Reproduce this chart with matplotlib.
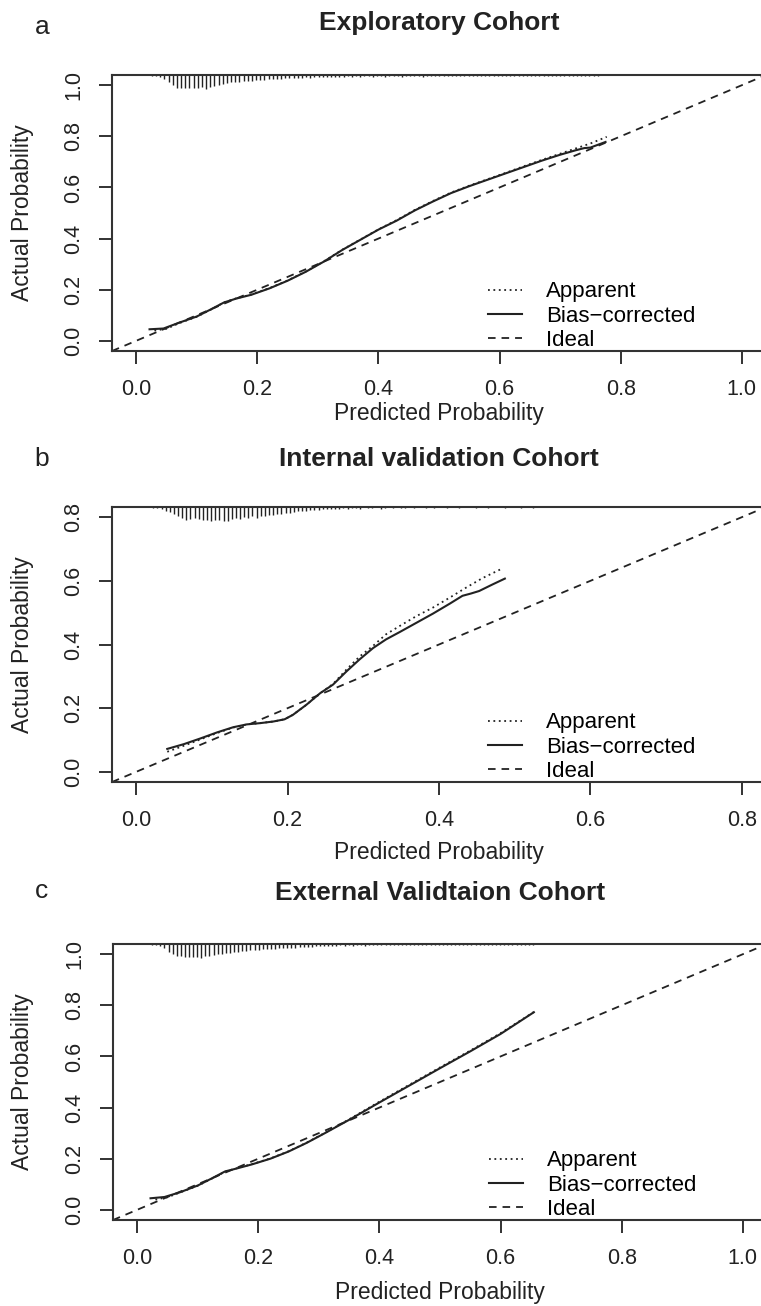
import matplotlib
matplotlib.use('Agg')
import matplotlib.pyplot as plt
import numpy as np

plt.rcParams['font.family'] = ['Liberation Sans', 'DejaVu Sans']

TITLES  = ['Exploratory Cohort', 'Internal validation Cohort', 'External Validtaion Cohort']
LETTERS = ['a', 'b', 'c']
LEGEND_LABELS = ['Apparent', 'Bias\u2212corrected', 'Ideal']
XLABEL = 'Predicted Probability'
YLABEL = 'Actual Probability'

# calibration curves
A_BIAS_X = [0.022, 0.045, 0.07, 0.1, 0.125, 0.145, 0.165, 0.19, 0.22, 0.25, 0.28, 0.31, 0.34,
            0.37, 0.40, 0.43, 0.46, 0.49, 0.52, 0.55, 0.58, 0.61, 0.64, 0.67, 0.70, 0.725,
            0.74, 0.75, 0.775]
A_BIAS_Y = [0.045, 0.048, 0.07, 0.095, 0.125, 0.15, 0.165, 0.18, 0.205, 0.235, 0.27, 0.31, 0.355,
            0.395, 0.435, 0.47, 0.51, 0.545, 0.578, 0.605, 0.63, 0.655, 0.68, 0.705, 0.728, 0.745,
            0.754, 0.756, 0.778]
A_APP_X = [0.03, 0.05, 0.07, 0.1, 0.125, 0.145, 0.165, 0.19, 0.22, 0.25, 0.28, 0.31, 0.34,
           0.37, 0.40, 0.43, 0.46, 0.49, 0.52, 0.55, 0.58, 0.61, 0.64, 0.67, 0.70, 0.725,
           0.75, 0.777]
A_APP_Y = [0.04, 0.047, 0.068, 0.094, 0.124, 0.15, 0.166, 0.181, 0.206, 0.236, 0.271, 0.311, 0.356,
           0.396, 0.436, 0.472, 0.512, 0.547, 0.58, 0.607, 0.632, 0.657, 0.683, 0.708, 0.732, 0.752,
           0.772, 0.798]

B_BIAS_X = [0.041, 0.063, 0.085, 0.107, 0.128, 0.146, 0.164, 0.181, 0.196, 0.207, 0.225, 0.243,
            0.26, 0.278, 0.295, 0.313, 0.33, 0.348, 0.37, 0.392, 0.414, 0.431, 0.442, 0.453,
            0.471, 0.487]
B_BIAS_Y = [0.072, 0.087, 0.105, 0.124, 0.14, 0.149, 0.153, 0.158, 0.165, 0.179, 0.211, 0.247,
            0.274, 0.316, 0.353, 0.389, 0.416, 0.439, 0.468, 0.497, 0.528, 0.553, 0.56, 0.568,
            0.589, 0.607]
B_APP_X = [0.041, 0.063, 0.085, 0.107, 0.128, 0.146, 0.164, 0.181, 0.196, 0.207, 0.225, 0.243,
           0.26, 0.278, 0.295, 0.313, 0.33, 0.348, 0.37, 0.392, 0.414, 0.436, 0.457, 0.482]
B_APP_Y = [0.063, 0.082, 0.102, 0.122, 0.139, 0.149, 0.153, 0.158, 0.165, 0.179, 0.211, 0.247,
           0.276, 0.322, 0.362, 0.396, 0.432, 0.458, 0.489, 0.516, 0.547, 0.579, 0.608, 0.637]

C_BIAS_X = [0.022, 0.045, 0.07, 0.1, 0.125, 0.145, 0.165, 0.19, 0.22, 0.25, 0.28, 0.31, 0.35,
            0.40, 0.45, 0.50, 0.55, 0.60, 0.655]
C_BIAS_Y = [0.045, 0.05, 0.068, 0.095, 0.125, 0.15, 0.162, 0.178, 0.2, 0.228, 0.262, 0.3, 0.352,
            0.42, 0.487, 0.554, 0.62, 0.688, 0.773]
C_APP_X = [0.03, 0.05, 0.07, 0.1, 0.125, 0.145, 0.165, 0.19, 0.22, 0.25, 0.28, 0.31, 0.35,
           0.40, 0.45, 0.50, 0.55, 0.60, 0.657]
C_APP_Y = [0.04, 0.049, 0.067, 0.094, 0.124, 0.149, 0.163, 0.179, 0.201, 0.229, 0.263, 0.301, 0.354,
           0.423, 0.49, 0.557, 0.623, 0.691, 0.777]

# spike histogram of predictions along the top (bin start, bin width, counts)
A_SPIKE_START, A_SPIKE_STEP = 0.026, 0.00688
A_SPIKES = [1, 1, 2, 4, 7, 10, 13, 13, 13, 13, 13, 13, 12, 14, 12, 11, 10, 9, 8, 7, 7, 7, 6, 6,
            6, 5, 5, 5, 4, 4, 4, 4, 3, 3, 3, 3, 3, 2, 3, 2, 2, 2, 2, 2, 2, 2, 2, 1, 2, 1, 2, 1,
            1, 2, 1, 1, 2, 1, 1, 1, 2, 1, 1, 1, 1, 2, 1, 1, 1, 1, 1, 1, 1, 1, 1, 1, 1, 1, 1, 1,
            1, 1, 1, 1, 1, 1, 1, 1, 1, 1, 1, 1, 1, 1, 1, 1, 1, 1, 1, 1, 1, 1, 1, 1, 1, 1, 1, 1]
B_SPIKE_START, B_SPIKE_STEP = 0.0225, 0.00546
B_SPIKES = [1, 1, 2, 4, 5, 7, 9, 11, 13, 12, 11, 12, 13, 13, 14, 13, 13, 14, 14, 12, 11, 12, 10,
            11, 9, 11, 9, 9, 8, 8, 7, 7, 6, 6, 5, 4, 4, 4, 3, 3, 3, 2, 2, 2, 2, 2, 1, 2, 1, 1,
            2, 0, 1, 1, 0, 2, 1, 0, 1, 0, 1, 1, 0, 1, 0, 0, 1, 0, 1, 0, 0, 1, 0, 0, 1, 0, 0, 0,
            1, 0, 0, 1, 0, 0, 0, 1, 0, 0, 0, 1, 0, 0, 1]
C_SPIKE_START, C_SPIKE_STEP = 0.0247, 0.00676
C_SPIKES = [1, 1, 2, 4, 8, 10, 12, 12, 13, 13, 13, 13, 14, 12, 12, 11, 10, 10, 9, 9, 8, 8, 7, 7,
            6, 6, 6, 5, 5, 5, 5, 4, 4, 4, 4, 4, 3, 3, 3, 3, 2, 2, 2, 2, 2, 2, 1, 2, 1, 2, 1, 1,
            2, 1, 1, 1, 1, 1, 1, 1, 1, 1, 1, 1, 1, 1, 1, 1, 1, 1, 1, 1, 1, 1, 1, 1, 1, 1, 1, 1,
            1, 1, 1, 1, 1, 1, 1, 1, 1, 1, 1, 1, 1, 1]

A_TICKS = [0.0, 0.2, 0.4, 0.6, 0.8, 1.0]
B_TICKS = [0.0, 0.2, 0.4, 0.6, 0.8]

panels = [
    dict(bias=(A_BIAS_X, A_BIAS_Y), app=(A_APP_X, A_APP_Y), ticks=A_TICKS,
         spikes=(A_SPIKE_START, A_SPIKE_STEP, A_SPIKES),
         rect=(112, 75, 766, 351), title_y=23, letter_y=27, xlab_y=414),
    dict(bias=(B_BIAS_X, B_BIAS_Y), app=(B_APP_X, B_APP_Y), ticks=B_TICKS,
         spikes=(B_SPIKE_START, B_SPIKE_STEP, B_SPIKES),
         rect=(112, 507, 766, 782), title_y=459, letter_y=459, xlab_y=853),
    dict(bias=(C_BIAS_X, C_BIAS_Y), app=(C_APP_X, C_APP_Y), ticks=A_TICKS,
         spikes=(C_SPIKE_START, C_SPIKE_STEP, C_SPIKES),
         rect=(113, 944, 767, 1220), title_y=893, letter_y=891, xlab_y=1293),
]

W, H = 761, 1306
INK = '#222222'
FS = 15.5
fig = plt.figure(figsize=(W / 100, H / 100), dpi=100)

for i, p in enumerate(panels):
    l, t, r, b = p['rect']
    ax = fig.add_axes([l / W, (H - b) / H, (r - l) / W, (b - t) / H])
    hgt = b - t
    wid = r - l
    lo = -0.04 * p['ticks'][-1]
    hi = p['ticks'][-1] * 1.04
    ax.set_xlim(lo, hi)
    ax.set_ylim(lo, hi)

    # spikes hanging from the top border
    s0, ds, counts = p['spikes']
    counts = np.array(counts, dtype=float)
    xs = s0 + ds * np.arange(len(counts))
    keep = counts > 0
    ax.vlines(xs[keep], 1 - counts[keep] / counts.max() * (14 / hgt), 1,
              transform=ax.get_xaxis_transform(), color=INK, lw=1.0, zorder=1)

    ax.plot(*p['app'], color=INK, lw=1.3, dashes=(1, 2), label=LEGEND_LABELS[0])
    ax.plot(*p['bias'], color=INK, lw=1.5, label=LEGEND_LABELS[1])
    ax.axline((0, 0), slope=1, color=INK, lw=1.3, dashes=(4.2, 3.3), label=LEGEND_LABELS[2])

    ax.legend(loc='lower left', bbox_to_anchor=(0.575, 0.0), frameon=False, fontsize=16,
              handlelength=1.55, handletextpad=1.05, labelspacing=0.15, borderpad=0,
              borderaxespad=0)

    ax.set_xticks(p['ticks'])
    ax.set_yticks(p['ticks'])
    ax.set_xticklabels([f'{v:.1f}' for v in p['ticks']])
    ax.set_yticklabels([f'{v:.1f}' for v in p['ticks']])
    for lab in ax.get_yticklabels():
        lab.set_rotation(90)
        lab.set_va('center')
    ax.tick_params(direction='out', length=9.5, width=1.3, color=INK, labelcolor=INK,
                   labelsize=FS, pad=10.5)
    for sp in ax.spines.values():
        sp.set_linewidth(1.5)
        sp.set_color('#333333')

    ax.set_xlabel(XLABEL, fontsize=16.5, color=INK, va='center')
    ax.xaxis.set_label_coords(0.5, (b - p['xlab_y']) / hgt)
    ax.set_ylabel(YLABEL, fontsize=16.5, color=INK, va='center')
    ax.yaxis.set_label_coords((23 - l) / wid, 0.5)

    ax.text(0.5, (b - p['title_y']) / hgt, TITLES[i], transform=ax.transAxes,
            ha='center', va='center', fontsize=19, fontweight='bold', color=INK)
    ax.text((42 - l) / wid, (b - p['letter_y']) / hgt, LETTERS[i], transform=ax.transAxes,
            ha='center', va='center', fontsize=19, color=INK)

fig.savefig('out.png', dpi=100)
